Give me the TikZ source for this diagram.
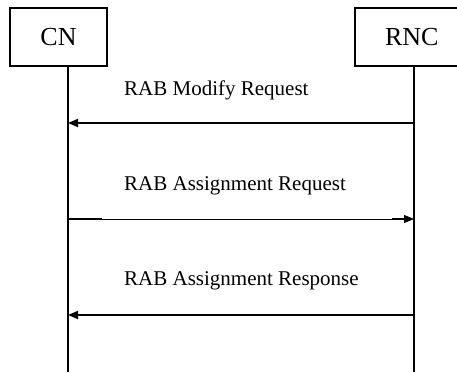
\documentclass[tikz,border=0pt]{standalone}
\usepackage{fontspec}
\setmainfont{Liberation Serif}
\usetikzlibrary{arrows.meta}
\begin{document}
\begin{tikzpicture}[x=1pt,y=-1pt,
  actor/.style={draw,line width=1.2pt,minimum height=58pt,inner sep=0pt,font=\fontsize{26}{28}\selectfont},
  life/.style={line width=1.5pt},
  msg/.style={line width=1.8pt,-{Triangle[length=10pt,width=8pt]}},
  thinmsg/.style={line width=0.8pt,-{Triangle[length=10pt,width=8pt]}},
  lbl/.style={anchor=base west,inner sep=0pt,font=\fontsize{21}{24}\selectfont}]
\useasboundingbox (0,0) rectangle (457,372);
\begin{scope}
\clip (0,0) rectangle (457,372);
\node[actor,minimum width=97pt] (cn) at (58.5,37) {CN};
\node[actor,minimum width=112pt,text width=112pt,align=left] (rnc) at (411,37) {\hspace*{30pt}RNC};
\coordinate (cnTop) at (68,66);
\coordinate (cnBot) at (68,372);
\coordinate (rncTop) at (414,66);
\coordinate (rncBot) at (414,372);
\draw[life] (cnTop) -- (cnBot);
\draw[life] (rncTop) -- (rncBot);
\coordinate (r1) at (414,123); \coordinate (c1) at (68,123);
\coordinate (c2) at (68,219); \coordinate (r2) at (414,219);
\coordinate (r3) at (414,315); \coordinate (c3) at (68,315);
\coordinate (c2b) at (102,219); \coordinate (r2b) at (392,219);
\draw[msg] (r1) -- (c1);
\draw[thinmsg] (c2) -- (r2);
\draw[line width=1.8pt] (c2) -- (c2b);
\draw[line width=1.8pt] (r2b) -- ([xshift=-8pt]r2);
\draw[msg] (r3) -- (c3);
\node[lbl] (l1) at (124,95) {RAB Modify Request};
\node[lbl] (l2) at (124,190) {RAB Assignment Request};
\node[lbl] (l3) at (124,285) {RAB Assignment Response};
\end{scope}
\end{tikzpicture}
\end{document}
